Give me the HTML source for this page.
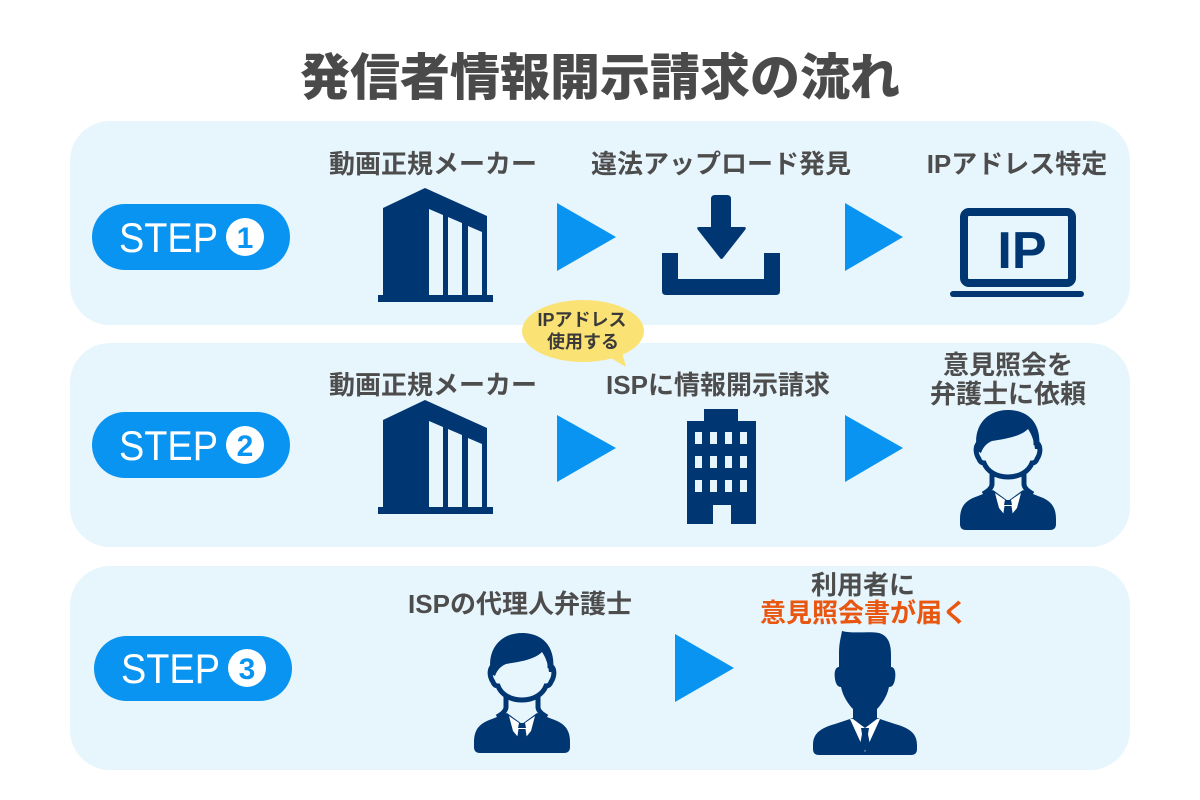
<!DOCTYPE html>
<html><head><meta charset="utf-8">
<style>
html,body{margin:0;padding:0;background:#fff;}
svg{display:block;}
text{font-family:"Liberation Sans","Noto Sans CJK JP",sans-serif;}
</style></head><body>
<svg width="1200" height="800" viewBox="0 0 1200 800" xmlns="http://www.w3.org/2000/svg">
<defs>
 <g id="lawyer">
  <path d="M0,110 C0,97 6,91 18,87 L33,81 L48,92 L63,81 L78,87 C90,91 96,97 96,110 L96,115 Q96,121 90,121 L6,121 Q0,121 0,115 Z" fill="#003671"/>
  <path d="M35,84 L48,93 L61,84 L57,99 L48,110 L39,99 Z" fill="#fff"/>
  <path d="M45,91 L51,91 L52,96 L44,96 Z M44.5,97 L51.5,97 L53,107 L48,113 L43,107 Z" fill="#003671"/>
  <path d="M32,58 L32,75 Q32,80 23,85 M64,58 L64,75 Q64,80 73,85" fill="none" stroke="#003671" stroke-width="5"/>
  <path d="M20,34 C20,14 32,4 48,4 C64,4 76,14 76,34 C81,35 81,44 77,50 C76,53 74,54 72,54 C69,62 60,68 48,68 C36,68 27,62 24,54 C22,54 20,53 19,50 C15,44 15,35 20,34 Z" fill="#e7f5fd" stroke="#003671" stroke-width="5"/>
  <path d="M17,42 C12,16 28,0 50,1 C70,2 82,16 79,40 L75,40 C74,32 72,26 68,20 C60,28 44,30 32,32 C27,34 23,38 21,44 Z" fill="#003671"/>
 </g>
 <g id="sil">
  <path d="M0,114 C0,102 8,97 22,93 L40,87 L52,98 L64,87 L82,93 C96,97 104,102 104,114 L104,118 Q104,124 98,124 L6,124 Q0,124 0,118 Z" fill="#003671"/>
  <path d="M37,88 L67,88 L52,121 Z" fill="#fff"/>
  <path d="M29,0 C40,3 55,0 66,2 C76,5 78,14 78,24 L78,36 C82,36 83,42 82,48 C81,54 79,56 76,56 C74,66 68,74 64,78 L64,88 L52,97 L40,88 L40,78 C36,74 30,66 28,56 C25,56 23,54 22,48 C21,42 22,36 26,36 L26,22 C26,12 28,6 29,0 Z" fill="#003671"/>
  <path d="M48,97 L56,97 L55,103 L49,103 Z M49,103 L55,103 L57,114 L52,120 L47,114 Z" fill="#003671"/>
 </g>
 <g id="bld1">
  <path d="M383,208 L425,188 L487,216 L487,296 L383,296 Z" fill="#003671"/>
  <rect x="378" y="295" width="115" height="7" fill="#003671"/>
  <path d="M429,209 L443,215 L443,295 L429,295 Z M448,217 L462,223 L462,295 L448,295 Z M468,226 L482,232 L482,295 L468,295 Z" fill="#e7f5fd"/>
 </g>
</defs>

<rect width="1200" height="800" fill="#fff"/>
<text x="600" y="95" text-anchor="middle" font-size="50" font-weight="900" fill="#4a4a4a">発信者情報開示請求の流れ</text>

<!-- panels -->
<rect x="70" y="121" width="1060" height="204" rx="40" fill="#e7f5fd"/>
<rect x="70" y="343" width="1060" height="204" rx="40" fill="#e7f5fd"/>
<rect x="70" y="566" width="1060" height="204" rx="40" fill="#e7f5fd"/>

<!-- badges -->
<g>
 <rect x="92" y="204" width="198" height="66" rx="33" fill="#0a94f2"/>
 <text x="119" y="252" font-size="42" fill="#fff" textLength="99" lengthAdjust="spacingAndGlyphs">STEP</text>
 <circle cx="245" cy="237" r="19" fill="#fff"/>
 <text x="245" y="248" text-anchor="middle" font-size="30" font-weight="bold" fill="#0a94f2">1</text>

 <rect x="92" y="412" width="198" height="66" rx="33" fill="#0a94f2"/>
 <text x="119" y="460" font-size="42" fill="#fff" textLength="99" lengthAdjust="spacingAndGlyphs">STEP</text>
 <circle cx="245" cy="445" r="19" fill="#fff"/>
 <text x="245" y="456" text-anchor="middle" font-size="30" font-weight="bold" fill="#0a94f2">2</text>

 <rect x="94" y="636" width="198" height="65" rx="32.5" fill="#0a94f2"/>
 <text x="121" y="683" font-size="42" fill="#fff" textLength="99" lengthAdjust="spacingAndGlyphs">STEP</text>
 <circle cx="247" cy="668" r="19" fill="#fff"/>
 <text x="247" y="679" text-anchor="middle" font-size="30" font-weight="bold" fill="#0a94f2">3</text>
</g>

<!-- arrows -->
<g fill="#0a94f2">
 <polygon points="557,203 557,271 616,237"/>
 <polygon points="845,203 845,271 903,237"/>
 <polygon points="557,415 557,482 616,448"/>
 <polygon points="845,415 845,482 903,448"/>
 <polygon points="675,634 675,702 734,668"/>
</g>

<!-- labels -->
<g font-size="26" font-weight="bold" fill="#4d4d4d" text-anchor="middle">
 <text x="433" y="173">動画正規メーカー</text>
 <text x="721" y="173">違法アップロード発見</text>
 <text x="1017" y="173">IPアドレス特定</text>
 <text x="433" y="394">動画正規メーカー</text>
 <text x="718" y="394">ISPに情報開示請求</text>
 <text x="1008" y="374">意見照会を</text>
 <text x="1008" y="403">弁護士に依頼</text>
 <text x="520" y="613">ISPの代理人弁護士</text>
 <text x="863" y="594">利用者に</text>
 <text x="864" y="622" fill="#e9560f">意見照会書が届く</text>
</g>

<!-- step1 icons -->
<use href="#bld1"/>
<g fill="#003671">
 <path d="M662,253 L678,253 L678,279 L764,279 L764,253 L780,253 L780,291 Q780,295 776,295 L666,295 Q662,295 662,291 Z"/>
 <path d="M711,199 Q711,195 715,195 L727,195 Q731,195 731,199 L731,230 L711,230 Z"/>
 <path d="M699,227 L744,227 Q747,227 745,230 L723,258 Q721.5,260 720,258 L698,230 Q696,227 699,227 Z"/>
</g>
<rect x="964" y="212" width="108" height="71" rx="5" fill="none" stroke="#003671" stroke-width="8"/>
<rect x="950" y="291" width="134" height="6" rx="3" fill="#003671"/>
<text x="1022" y="268" text-anchor="middle" font-size="52" font-weight="bold" fill="#003671">IP</text>

<!-- step2 icons -->
<use href="#bld1" transform="translate(0,212)"/>
<g fill="#003671">
 <rect x="704" y="409" width="34" height="13"/>
 <rect x="687" y="421" width="69" height="103"/>
</g>
<g fill="#e7f5fd">
 <rect x="695" y="432" width="7" height="12"/><rect x="710" y="432" width="7" height="12"/><rect x="725" y="432" width="7" height="12"/><rect x="740" y="432" width="7" height="12"/>
 <rect x="695" y="456" width="7" height="12"/><rect x="710" y="456" width="7" height="12"/><rect x="725" y="456" width="7" height="12"/><rect x="740" y="456" width="7" height="12"/>
 <rect x="695" y="480" width="7" height="12"/><rect x="710" y="480" width="7" height="12"/><rect x="725" y="480" width="7" height="12"/><rect x="740" y="480" width="7" height="12"/>
 <rect x="713" y="505" width="18" height="19"/>
</g>
<use href="#lawyer" transform="translate(960,409)"/>

<!-- bubble -->
<ellipse cx="583" cy="331" rx="61" ry="31" fill="#fbe274"/>
<path d="M604,354 L626,367 L620,345 Z" fill="#fbe274"/>
<g font-size="18" font-weight="bold" fill="#3a3a3a" text-anchor="middle">
 <text x="582" y="326">IPアドレス</text>
 <text x="583" y="348">使用する</text>
</g>

<!-- step3 icons -->
<use href="#lawyer" transform="translate(474,632)"/>
<use href="#sil" transform="translate(813,631)"/>
</svg>
</body></html>
